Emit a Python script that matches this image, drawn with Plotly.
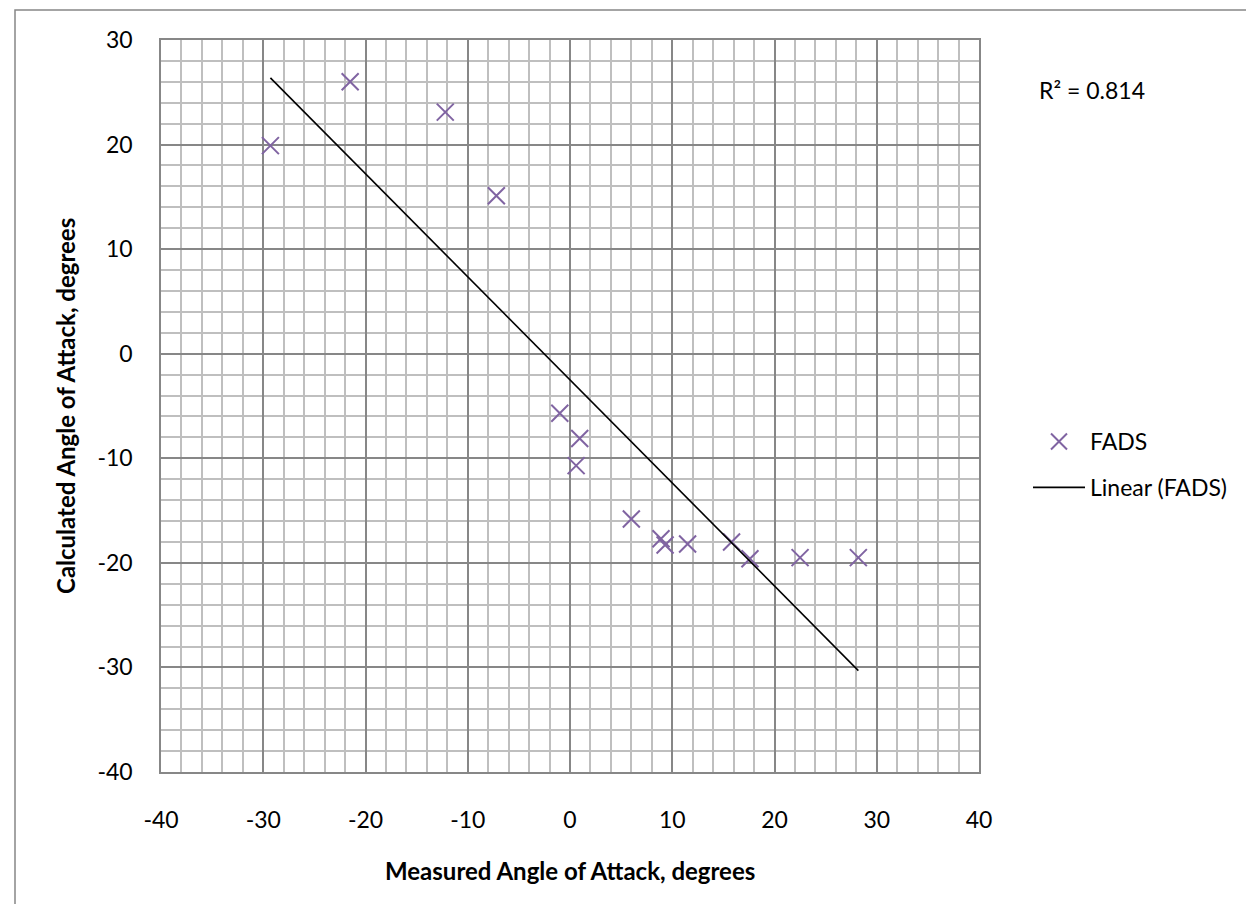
import numpy as np
import plotly.graph_objects as go

# Data
measured = [-29.3, -21.5, -12.2, -7.2, -1.0, 0.95, 0.6, 6.0, 8.9, 9.3, 11.5, 15.8, 17.6, 22.5, 28.2]
calculated = [19.9, 26.0, 23.1, 15.1, -5.7, -8.1, -10.7, -15.8, -17.7, -18.3, -18.2, -18.0, -19.6, -19.5, -19.5]
x_ticks = [-40, -30, -20, -10, 0, 10, 20, 30, 40]
x_tick_labels = ["-40", "-30", "-20", "-10", "0", "10", "20", "30", "40"]
y_ticks = [-40, -30, -20, -10, 0, 10, 20, 30]
y_tick_labels = ["-40", "-30", "-20", "-10", "0", "10", "20", "30"]
series_name = "FADS"
trend_name = "Linear (FADS)"
r2_label = "R² = 0.814"
x_title = "Measured Angle of Attack, degrees"
y_title = "Calculated Angle of Attack, degrees"

# Linear trendline (least squares, over the data's x-range)
slope, intercept = np.polyfit(measured, calculated, 1)
tx = [min(measured), max(measured)]
ty = [slope * v + intercept for v in tx]

FONT = "Lato"
FS = 23
FS_TITLE = 24
W, H = 1254, 904
L, R, T, B = 153, 971, 32, 764
PW, PH = R - L, B - T


def px_x(p):
    return (p - L) / PW


def px_y(p):
    return (B - p) / PH


fig = go.Figure()
fig.add_trace(go.Scatter(
    x=measured, y=calculated, mode="markers", name=series_name,
    marker=dict(symbol="x-thin-open", size=17, color="#8064A2",
                line=dict(color="#8064A2", width=2)),
    legendgroup="a",
))
fig.add_trace(go.Scatter(
    x=tx, y=ty, mode="lines", name=trend_name,
    line=dict(color="black", width=1.6), legendgroup="b",
))

grid_minor = "#BFBFBF"
grid_major = "#878787"
axis_common = dict(
    showgrid=True, gridcolor=grid_major, gridwidth=1.5,
    zeroline=False, showline=True, linecolor=grid_major, linewidth=1.5, mirror=True,
    ticks="outside", tickcolor="rgba(0,0,0,0)",
    tickfont=dict(family=FONT, size=FS, color="black"),
    minor=dict(dtick=2, showgrid=True, gridcolor=grid_minor, gridwidth=1.5, ticks=""),
)
fig.update_xaxes(**axis_common, range=[-40, 40], tickmode="array",
                 tickvals=x_ticks, ticktext=x_tick_labels, ticklen=27)
fig.update_yaxes(**axis_common, range=[-40, 30], tickmode="array",
                 tickvals=y_ticks, ticktext=y_tick_labels, ticklen=22)

# axis titles
fig.add_annotation(text="<b>" + x_title + "</b>", xref="paper", yref="paper",
                   x=px_x(562), y=px_y(862), xanchor="center", yanchor="middle",
                   showarrow=False, font=dict(family=FONT, size=FS_TITLE, color="black"))
fig.add_annotation(text="<b>" + y_title + "</b>", xref="paper", yref="paper",
                   x=px_x(57), y=px_y(398), xanchor="center", yanchor="middle",
                   textangle=-90, showarrow=False,
                   font=dict(family=FONT, size=FS_TITLE, color="black"))

fig.add_annotation(text=r2_label, xref="paper", yref="paper",
                   x=px_x(1029), y=px_y(82),
                   xanchor="left", yanchor="middle", showarrow=False,
                   font=dict(family=FONT, size=FS, color="black"))

# outer chart border
fig.add_shape(type="rect", xref="paper", yref="paper",
              x0=px_x(7), x1=px_x(1300), y0=px_y(950), y1=px_y(2),
              line=dict(color="#878787", width=1.5), fillcolor="rgba(0,0,0,0)", layer="below")

fig.update_layout(
    width=W, height=H,
    margin=dict(l=L, r=W - R, t=T, b=H - B),
    paper_bgcolor="white", plot_bgcolor="white",
    showlegend=True,
    legend=dict(x=px_x(1020), y=px_y(412), xanchor="left", yanchor="top",
                font=dict(family=FONT, size=FS, color="black"),
                tracegroupgap=13, traceorder="grouped", itemwidth=52,
                bgcolor="rgba(0,0,0,0)"),
    font=dict(family=FONT, color="black"),
)

fig.write_html("out.html")
